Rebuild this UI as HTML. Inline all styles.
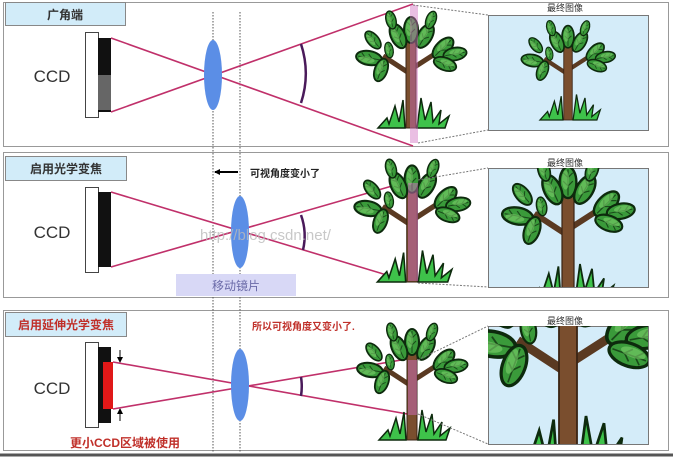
<!DOCTYPE html>
<html><head><meta charset="utf-8"><style>
html,body{margin:0;padding:0;background:#fff;overflow:hidden;width:673px;height:457px}
svg{display:block}
text{font-family:"Liberation Sans","Noto Sans CJK SC",sans-serif}
</style></head><body>
<svg width="673" height="457" viewBox="0 0 673 457" xmlns="http://www.w3.org/2000/svg">
<defs>
<g id="leaf"><ellipse cx="0" cy="0" rx="7" ry="13" fill="#3a9a3a" stroke="#0d2a0d" stroke-width="2"/><path d="M0,-11 L0,11 M0,-4 L-4,-8 M0,-4 L4,-8 M0,3 L-4,-1 M0,3 L4,-1" stroke="#1a4a1a" stroke-width="1" fill="none"/><ellipse cx="-2" cy="-2" rx="3" ry="8" fill="#7bd06a" opacity=".6"/></g>
<g id="tree">
<path d="M-2,-55 L-28,-72 M2,-60 L30,-78" stroke="#5a3a22" stroke-width="5" fill="none"/>
<rect x="-5" y="-100" width="10" height="100" fill="#7a4e2e" stroke="#3a2414" stroke-width="1"/>
<use href="#leaf" transform="translate(0,-98) rotate(0)"/>
<use href="#leaf" transform="translate(-13,-92) rotate(-25)"/>
<use href="#leaf" transform="translate(14,-92) rotate(30)"/>
<use href="#leaf" transform="translate(-20,-108) rotate(-15) scale(.7)"/>
<use href="#leaf" transform="translate(20,-108) rotate(20) scale(.7)"/>
<use href="#leaf" transform="translate(-38,-88) rotate(-40) scale(.8)"/>
<use href="#leaf" transform="translate(-42,-70) rotate(-80)"/>
<use href="#leaf" transform="translate(-30,-58) rotate(20) scale(.9)"/>
<use href="#leaf" transform="translate(-22,-78) rotate(-10) scale(.6)"/>
<use href="#leaf" transform="translate(32,-80) rotate(45)"/>
<use href="#leaf" transform="translate(44,-74) rotate(80) scale(.9)"/>
<use href="#leaf" transform="translate(34,-64) rotate(110) scale(.9)"/>
<path d="M-33,0 L-24,-10 L-22,-4 L-16,-22 L-12,-6 L-8,-28 L-6,0 Z M6,0 L10,-30 L14,-8 L20,-26 L22,-6 L30,-18 L28,-4 L38,-12 L34,0 Z" fill="#3ec24a" stroke="#0d2a0d" stroke-width="1.5"/>
</g>
<clipPath id="c1"><rect x="488" y="15" width="160" height="115"/></clipPath>
<clipPath id="c2"><rect x="488" y="168" width="160" height="119"/></clipPath>
<clipPath id="c3"><rect x="488" y="326" width="160" height="118"/></clipPath>
<marker id="ah" markerUnits="userSpaceOnUse" markerWidth="6" markerHeight="6" refX="5" refY="3" orient="auto"><path d="M0,0 L6,3 L0,6 Z" fill="#000"/></marker>
</defs>

<rect x="3.5" y="2.5" width="665" height="144" fill="#fff" stroke="#999"/>
<rect x="3.5" y="152.5" width="665" height="145" fill="#fff" stroke="#999"/>
<rect x="3.5" y="310.5" width="665" height="140" fill="#fff" stroke="#999"/>
<line x1="0" y1="455" x2="673" y2="455" stroke="#555" stroke-width="3"/>

<rect x="5.5" y="2.5" width="120" height="23" fill="#d2ecf9" stroke="#888"/>
<text x="65" y="19" font-size="12" font-weight="bold" text-anchor="middle" fill="#333">广角端</text>
<rect x="5.5" y="156.5" width="121" height="24" fill="#d2ecf9" stroke="#888"/>
<text x="66" y="173" font-size="12" font-weight="bold" text-anchor="middle" fill="#333">启用光学变焦</text>
<rect x="5.5" y="312.5" width="121" height="24" fill="#d2ecf9" stroke="#888"/>
<text x="66" y="329" font-size="12" font-weight="bold" text-anchor="middle" fill="#c0302a">启用延伸光学变焦</text>

<line x1="213" y1="12" x2="213" y2="452" stroke="#555" stroke-dasharray="1.5,1.5"/>
<line x1="240" y1="12" x2="240" y2="452" stroke="#555" stroke-dasharray="1.5,1.5"/>

<text x="52" y="82" font-size="17" text-anchor="middle" fill="#333">CCD</text>
<text x="52" y="238" font-size="17" text-anchor="middle" fill="#333">CCD</text>
<text x="52" y="394" font-size="17" text-anchor="middle" fill="#333">CCD</text>

<rect x="85.5" y="32.5" width="13" height="85" fill="#fff" stroke="#444"/>
<rect x="98" y="38" width="13" height="74" fill="#111"/>
<rect x="98" y="75" width="13" height="35" fill="#666"/>
<rect x="85.5" y="187.5" width="13" height="85" fill="#fff" stroke="#444"/>
<rect x="98" y="192" width="13" height="75" fill="#111"/>
<rect x="85.5" y="342.5" width="13" height="85" fill="#fff" stroke="#444"/>
<rect x="98" y="347" width="13" height="76" fill="#111"/>
<rect x="103" y="362" width="10" height="47" fill="#e01818"/>
<line x1="120" y1="350" x2="120" y2="362" stroke="#000" marker-end="url(#ah)"/>
<line x1="120" y1="421" x2="120" y2="409" stroke="#000" marker-end="url(#ah)"/>
<text x="125" y="447" font-size="12" font-weight="bold" text-anchor="middle" fill="#c0302a">更小CCD区域被使用</text>

<g stroke="#c0306a" stroke-width="1.6" fill="none">
<line x1="111" y1="38" x2="413" y2="146"/>
<line x1="111" y1="112" x2="413" y2="4"/>
<line x1="111" y1="192" x2="390" y2="276"/>
<line x1="111" y1="267" x2="413" y2="180"/>
<line x1="113" y1="362" x2="413" y2="415"/>
<line x1="113" y1="409" x2="413" y2="358"/>
</g>

<ellipse cx="213" cy="75" rx="9" ry="35" fill="#5b8ee6"/>
<ellipse cx="240" cy="232" rx="9" ry="36" fill="#5b8ee6"/>
<ellipse cx="240" cy="385" rx="9" ry="36" fill="#5b8ee6"/>

<g stroke="#4a1a5a" stroke-width="2.5" fill="none">
<path d="M301,44 A95,95 0 0 1 301,103"/>
<path d="M301,215 A62,62 0 0 1 303,250"/>
<path d="M301,377 A60,60 0 0 1 301,396"/>
</g>

<line x1="238" y1="172" x2="215" y2="172" stroke="#000" stroke-width="2" marker-end="url(#ah)"/>
<text x="250" y="177" font-size="10" font-weight="bold" fill="#222">可视角度变小了</text>
<rect x="176" y="274" width="120" height="22" fill="#d8d8f6"/>
<text x="236" y="290" font-size="12" text-anchor="middle" fill="#6a6aa8">移动镜片</text>
<text x="252" y="330" font-size="10" font-weight="bold" fill="#c0302a">所以可视角度又变小了.</text>

<use href="#tree" transform="translate(411,128)"/>
<use href="#tree" transform="translate(412,282) scale(1.05)"/>
<use href="#tree" transform="translate(412,440)"/>
<rect x="410" y="5" width="8" height="138" fill="#d070c0" opacity=".45"/>
<rect x="408" y="183" width="10" height="98" fill="#d070c0" opacity=".5"/>
<rect x="408" y="360" width="9" height="55" fill="#d070c0" opacity=".5"/>

<g stroke="#777" stroke-dasharray="2,1.5" fill="none">
<path d="M413,5 L488,15 M418,143 L488,130"/>
<path d="M418,180 L488,168 M418,283 L488,287"/>
<path d="M418,360 L488,326 M418,414 L488,444"/>
</g>

<text x="565" y="11" font-size="9" text-anchor="middle" fill="#333">最终图像</text>
<rect x="488.5" y="15.5" width="160" height="115" fill="#d4ecf9" stroke="#777"/>
<g clip-path="url(#c1)"><use href="#tree" transform="translate(568,120) scale(.85)"/></g>
<text x="565" y="166" font-size="9" text-anchor="middle" fill="#333">最终图像</text>
<rect x="488.5" y="168.5" width="160" height="119" fill="#d4ecf9" stroke="#777"/>
<g clip-path="url(#c2)"><use href="#tree" transform="translate(568,300) scale(1.2)"/></g>
<text x="565" y="324" font-size="9" text-anchor="middle" fill="#333">最终图像</text>
<rect x="488.5" y="326.5" width="160" height="118" fill="#d4ecf9" stroke="#777"/>
<g clip-path="url(#c3)"><use href="#tree" transform="translate(568,470) scale(1.8)"/></g>

<text x="200" y="240" font-size="15" fill="#bbb" font-family="Liberation Mono,monospace" opacity=".8">http://blog.csdn.net/</text>
</svg>
</body></html>
